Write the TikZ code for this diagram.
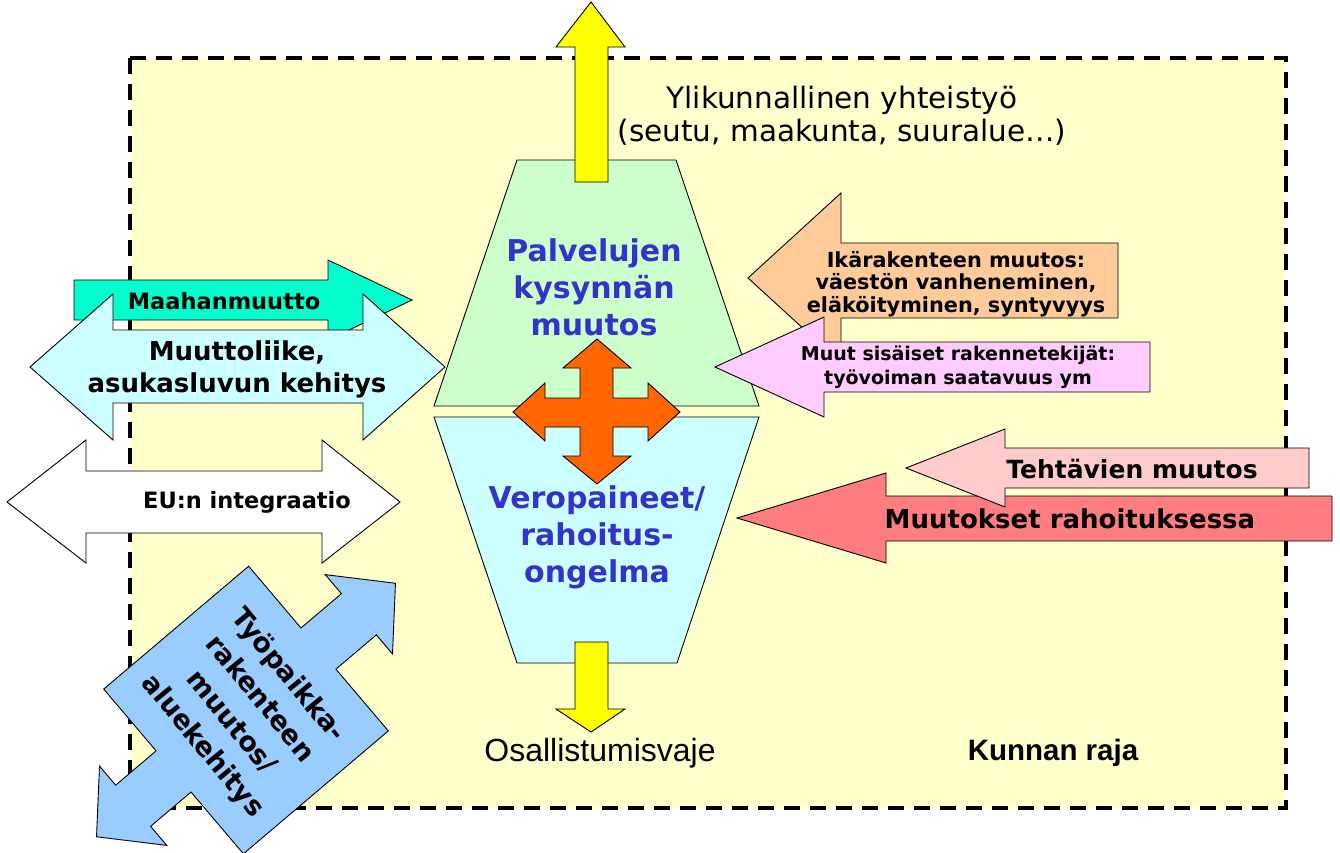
\documentclass[tikz,border=0pt]{standalone}
\usepackage{fontspec}
\setmainfont{DejaVu Sans}
\newfontfamily\arialfont{Liberation Sans}
\definecolor{bgyellow}{HTML}{FFFFCC}
\definecolor{trapgreen}{HTML}{CCFFCC}
\definecolor{trapcyan}{HTML}{CCFFFF}
\definecolor{arryellow}{HTML}{FFFF00}
\definecolor{quadorange}{HTML}{FF6600}
\definecolor{teal1}{HTML}{00FFCC}
\definecolor{cyan1}{HTML}{CCFFFF}
\definecolor{blue1}{HTML}{99CCFF}
\definecolor{peach1}{HTML}{FFCC99}
\definecolor{pink1}{HTML}{FFCCFF}
\definecolor{rose1}{HTML}{FFCCCC}
\definecolor{red1}{HTML}{FF7C80}
\definecolor{txtblue}{HTML}{3333CC}
\begin{document}
\begin{tikzpicture}[x=1pt,y=-1pt,
  shp/.style={draw=black, line width=0.9pt, line join=miter},
  lbl/.style={inner sep=0pt, align=center},
  fs/.style 2 args={font=\bfseries\fontsize{#1}{#2}\selectfont},
  ]
\useasboundingbox (0,0) rectangle (1340,852);
% municipal border
\path[fill=bgyellow] (130,58) rectangle (1286,808);
\draw[line width=4.5pt, dash pattern=on 16pt off 10pt] (130,58) rectangle (1286,808);

% trapezoids
\draw[shp, fill=trapgreen] (517,160) -- (676,160) -- (759,406) -- (434,406) -- cycle;
\draw[shp, fill=trapcyan] (434,417) -- (759,417) -- (677,663) -- (517,663) -- cycle;
\node[lbl, fs={30}{37}, text=txtblue] (palv) at (594,287) {Palvelujen\\kysynnän\\muutos};
\node[lbl, fs={30}{37}, text=txtblue] (vero) at (597,537) {Veropaineet/\\rahoitus-\\ongelma};

% yellow arrows
\draw[shp, fill=arryellow] (575,182) -- (575,47) -- (556,47) -- (591,2) -- (625,47) -- (608,47) -- (608,182) -- cycle;
\draw[shp, fill=arryellow] (575,642) -- (608,642) -- (608,709) -- (625,709) -- (591,732) -- (556,709) -- (575,709) -- cycle;

% quad arrow
\draw[shp, fill=quadorange] (597,339) -- (631,368) -- (613,368) -- (613,398) -- (648,398) -- (648,383) -- (680,412)
  -- (648,441) -- (648,427) -- (613,427) -- (613,456) -- (631,456) -- (597,484) -- (563,456) -- (580,456)
  -- (580,427) -- (545,427) -- (545,441) -- (513,412) -- (545,383) -- (545,398) -- (580,398) -- (580,368)
  -- (563,368) -- cycle;

% texts in the frame
\node[lbl, font=\fontsize{29.5}{33}\selectfont] (ylik) at (842,116) {Ylikunnallinen yhteistyö\\(seutu, maakunta, suuralue…)};
\node[lbl, font=\arialfont\fontsize{32}{36}\selectfont] (osal) at (600,753) {Osallistumisvaje};
\node[lbl, font=\arialfont\bfseries\fontsize{29.5}{33}\selectfont] (kunn) at (1053,753) {Kunnan raja};

% left arrows
\draw[shp, fill=teal1] (74,280) -- (328,280) -- (328,260) -- (412,300) -- (328,340) -- (328,320) -- (74,320) -- cycle;
\node[lbl, fs={22.5}{26}] (maah) at (224,301) {Maahanmuutto};
\draw[shp, fill=cyan1] (30,367) -- (113,294) -- (113,330) -- (363,330) -- (363,294) -- (445,367) -- (363,440)
  -- (363,403) -- (113,403) -- (113,440) -- cycle;
\node[lbl, fs={26}{32}] (muut) at (237,369) {Muuttoliike,\\asukasluvun kehitys};
\draw[shp, fill=white] (7,502) -- (86,440) -- (86,471) -- (322,471) -- (322,440) -- (400,502) -- (322,563)
  -- (322,533) -- (86,533) -- (86,563) -- cycle;
\node[lbl, fs={22.5}{26}] (eu) at (247,502) {EU:n integraatio};

% diagonal blue arrow
\begin{scope}[shift={(246,710)}, rotate=40.3]
\draw[shp, fill=blue1] (95,-108) -- (95,-27) -- (148,-27) -- (148,-52) -- (196,0) -- (148,52) -- (148,27)
  -- (95,27) -- (95,108) -- (-95,108) -- (-95,27) -- (-148,27) -- (-148,52) -- (-196,0) -- (-148,-52)
  -- (-148,-27) -- (-95,-27) -- (-95,-108) -- cycle;
\end{scope}
\node[lbl, fs={27}{37}, rotate=-50.5] (tyop) at (245,711) {Työpaikka-\\rakenteen\\muutos/\\aluekehitys};

% right arrows
\draw[shp, fill=peach1] (748,278) -- (841,193) -- (841,243) -- (1118,243) -- (1118,318) -- (841,318) -- (841,363) -- cycle;
\node[lbl, fs={20.8}{22.5}] (ikar) at (956,284) {Ikärakenteen muutos:\\väestön vanheneminen,\\eläköityminen, syntyvyys};
\draw[shp, fill=pink1] (715,367) -- (824,317) -- (824,342) -- (1150,342) -- (1150,392) -- (824,392) -- (824,417) -- cycle;
\node[lbl, fs={19}{24}] (msis) at (958,367) {Muut sisäiset rakennetekijät:\\työvoiman saatavuus ym};
\draw[shp, fill=red1] (737,518) -- (886,473) -- (886,496) -- (1332,496) -- (1332,541) -- (886,541) -- (886,563) -- cycle;
\node[lbl, fs={26}{30}] (rah) at (1070,519) {Muutokset rahoituksessa};
\draw[shp, fill=rose1] (906,468) -- (1005,429) -- (1005,448) -- (1309,448) -- (1309,488) -- (1005,488) -- (1005,507) -- cycle;
\node[lbl, fs={25}{30}] (teht) at (1132,469) {Tehtävien muutos};
\end{tikzpicture}
\end{document}
